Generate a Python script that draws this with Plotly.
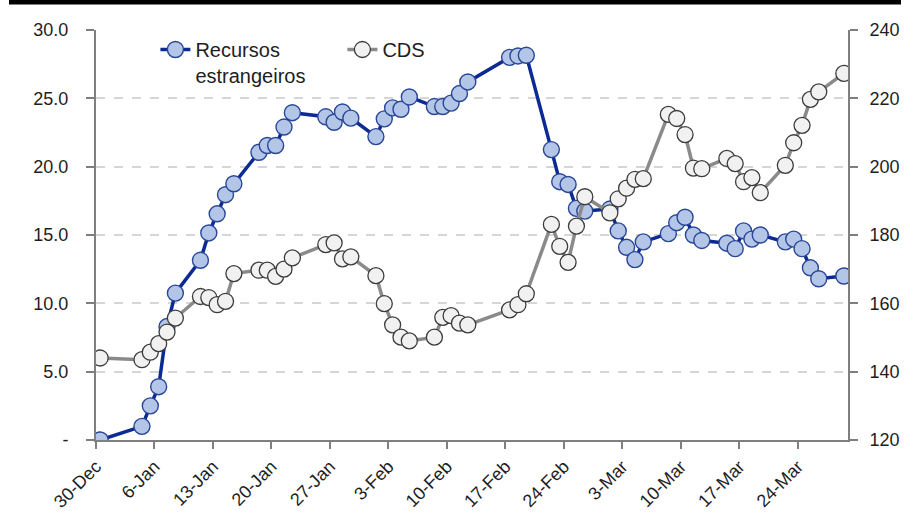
import plotly.graph_objects as go

# Trading days (B3 calendar), foreign flows (R$ bn, cumulative) and 5y CDS (bps)
dates = [
    "2020-12-30",
    "2021-01-04", "2021-01-05", "2021-01-06", "2021-01-07", "2021-01-08",
    "2021-01-11", "2021-01-12", "2021-01-13", "2021-01-14", "2021-01-15",
    "2021-01-18", "2021-01-19", "2021-01-20", "2021-01-21", "2021-01-22",
    "2021-01-26", "2021-01-27", "2021-01-28", "2021-01-29",
    "2021-02-01", "2021-02-02", "2021-02-03", "2021-02-04", "2021-02-05",
    "2021-02-08", "2021-02-09", "2021-02-10", "2021-02-11", "2021-02-12",
    "2021-02-17", "2021-02-18", "2021-02-19",
    "2021-02-22", "2021-02-23", "2021-02-24", "2021-02-25", "2021-02-26",
    "2021-03-01", "2021-03-02", "2021-03-03", "2021-03-04", "2021-03-05",
    "2021-03-08", "2021-03-09", "2021-03-10", "2021-03-11", "2021-03-12",
    "2021-03-15", "2021-03-16", "2021-03-17", "2021-03-18", "2021-03-19",
    "2021-03-22", "2021-03-23", "2021-03-24", "2021-03-25", "2021-03-26",
    "2021-03-29",
]

recursos = [
    0.0,
    1.0, 2.5, 3.9, 8.3, 10.75,
    13.15, 15.15, 16.55, 17.95, 18.75,
    21.05, 21.55, 21.55, 22.9, 23.95,
    23.65, 23.25, 24.0, 23.55,
    22.2, 23.5, 24.3, 24.2, 25.1,
    24.4, 24.4, 24.65, 25.35, 26.2,
    28.0, 28.1, 28.15,
    21.25, 18.9, 18.7, 16.95, 16.75,
    16.9, 15.3, 14.1, 13.2, 14.5,
    15.1, 15.9, 16.3, 15.0, 14.6,
    14.4, 14.0, 15.3, 14.7, 15.0,
    14.5, 14.7, 14.0, 12.6, 11.8,
    12.0,
]

cds = [
    144.0,
    143.5, 145.7, 148.2, 151.6, 155.7,
    162.0, 161.7, 159.6, 160.6, 168.7,
    169.7, 169.7, 167.9, 170.0, 173.3,
    177.2, 177.7, 173.0, 173.6,
    168.1, 159.9, 153.7, 150.1, 149.0,
    150.1, 155.9, 156.4, 154.2, 153.7,
    158.1, 159.6, 162.8,
    183.1, 176.7, 172.0, 182.6, 191.2,
    186.5, 190.6, 193.7, 196.3, 196.5,
    215.3, 214.1, 209.4, 199.6, 199.4,
    202.4, 200.9, 195.6, 196.8, 192.4,
    200.4, 207.0, 212.1, 219.7, 221.9,
    227.3,
]

left_ticks = [0, 5, 10, 15, 20, 25, 30]
left_labels = ["-", "5.0", "10.0", "15.0", "20.0", "25.0", "30.0"]
right_ticks = [120, 140, 160, 180, 200, 220, 240]

W, H = 913, 519
ML, MR, MT, MB = 96, 65, 30, 79
PW, PH = W - ML - MR, H - MT - MB

FONT = "Arial, Liberation Sans, sans-serif"
TXT = "#1e1e1e"
AXIS = "#7f7f7f"
DAY = 86400000

fig = go.Figure()

fig.add_trace(go.Scatter(
    x=dates, y=recursos, name="Recursos<br>estrangeiros",
    mode="lines+markers",
    xperiod=DAY, xperiodalignment="middle",
    line=dict(color="#0b2a94", width=3.5),
    marker=dict(size=16, color="#b3c6e8", line=dict(color="#2a4696", width=1.4)),
))

fig.add_trace(go.Scatter(
    x=dates, y=cds, name="CDS", yaxis="y2",
    mode="lines+markers",
    xperiod=DAY, xperiodalignment="middle",
    line=dict(color="#8a8a8a", width=3.5),
    marker=dict(size=16, color="#f1f1f1", line=dict(color="#3c3c3c", width=1.3)),
))

# Heavy black rule along the top edge
fig.add_shape(
    type="rect", xref="paper", yref="paper",
    x0=(9 - ML) / PW, x1=(901 - ML) / PW,
    y0=1 + (MT - 4.5) / PH, y1=1 + MT / PH + 0.01,
    fillcolor="black", line=dict(width=0), layer="above",
)

fig.update_layout(
    width=W, height=H,
    margin=dict(l=ML, r=MR, t=MT, b=MB, autoexpand=False),
    paper_bgcolor="white", plot_bgcolor="white",
    font=dict(family=FONT, size=18, color=TXT),
    showlegend=True,
    legend=dict(
        orientation="h", x=0.079, y=1.0, xanchor="left", yanchor="top",
        font=dict(size=20, color=TXT), bgcolor="rgba(0,0,0,0)",
        entrywidth=142, entrywidthmode="pixels", valign="top",
        itemwidth=30, tracegroupgap=0,
    ),
    xaxis=dict(
        type="date", automargin=False,
        range=["2020-12-30", "2021-03-30"],
        tickmode="linear", tick0="2020-12-30", dtick=7 * DAY,
        tickformat="%-d-%b", tickangle=-45,
        ticks="outside", ticklen=7, tickwidth=1.5, tickcolor=AXIS,
        showline=True, linecolor=AXIS, linewidth=2,
        showgrid=False, zeroline=False,
        tickfont=dict(size=18, color=TXT),
    ),
    yaxis=dict(
        range=[0, 30], tickmode="array", automargin=False,
        tickvals=left_ticks, ticktext=left_labels,
        ticks="outside", ticklen=8, tickwidth=1.5, tickcolor=AXIS,
        showline=True, linecolor=AXIS, linewidth=2,
        showgrid=True, gridcolor="#d6d6d6", gridwidth=1.5, griddash="dash",
        zeroline=False, ticklabelstandoff=14,
        tickfont=dict(size=18, color=TXT),
    ),
    yaxis2=dict(
        range=[120, 240], tickmode="array", tickvals=right_ticks,
        overlaying="y", side="right", automargin=False,
        ticks="outside", ticklen=8, tickwidth=1.5, tickcolor=AXIS,
        showline=True, linecolor=AXIS, linewidth=2,
        showgrid=False, zeroline=False, ticklabelstandoff=8,
        tickfont=dict(size=18, color=TXT),
    ),
)

fig.write_html("out.html")
